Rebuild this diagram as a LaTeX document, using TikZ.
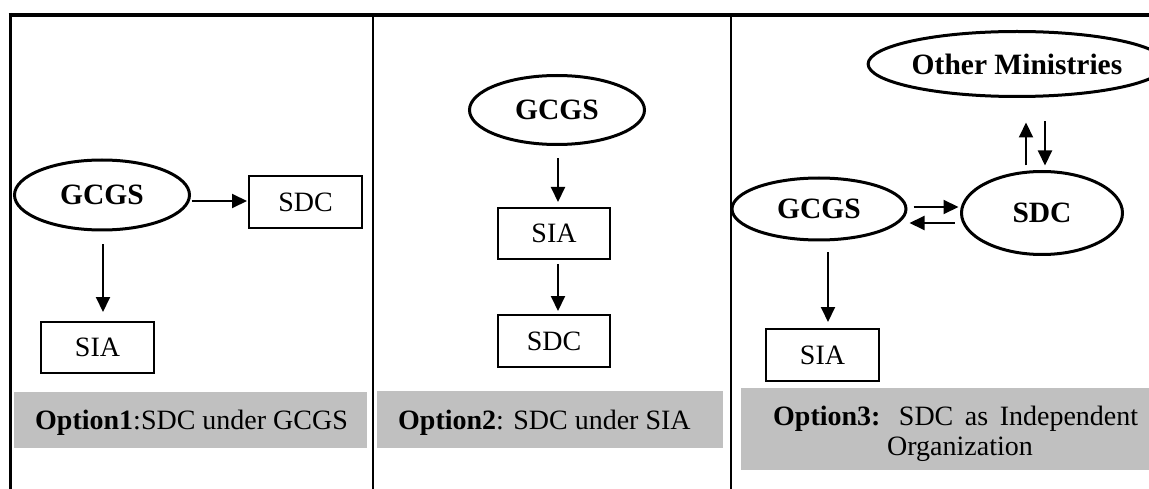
\documentclass[tikz,border=0pt]{standalone}
\usepackage{fontspec}
\setmainfont{Liberation Serif}
\usetikzlibrary{shapes.geometric,arrows.meta,calc}
\definecolor{capgray}{HTML}{C0C0C0}
\begin{document}
\begin{tikzpicture}[x=1pt,y=-1pt,
  oval/.style={draw, ellipse, line width=3pt, inner sep=0pt, font=\fontsize{29.5}{33}\selectfont\bfseries},
  unit/.style={draw, rectangle, line width=2pt, inner sep=0pt, font=\fontsize{28}{32}\selectfont},
  arr/.style={line width=2pt, -{Triangle[length=15pt,width=14pt]}},
  captext/.style={anchor=base west, inner sep=0pt, font=\fontsize{28}{32}\selectfont}]
\useasboundingbox (0,0) rectangle (1149,489);

% table frame
\draw[line width=4pt] (8.5,15) -- (1149,15);
\draw[line width=3pt] (10,13) -- (10,489);
\draw[line width=2pt] (373,15) -- (373,489);
\draw[line width=2pt] (731,15) -- (731,489);

% caption bands
\fill[capgray] (14,392) rectangle (367,448);
\fill[capgray] (377,391) rectangle (723,448);
\fill[capgray] (741,388) rectangle (1149,470);

\node[captext] (c1) at (35,429) {\textbf{Option1}:SDC under GCGS};
\node[captext] (c2) at (398,429) {\textbf{Option2}: SDC under SIA};
\node[captext] (c3a) at (773,425) {\makebox[365pt][s]{\textbf{Option3:} SDC as Independent}};
\node[captext] (c3b) at (887,455) {Organization};

% Option 1
\node[oval, minimum width=175pt, minimum height=70pt] (gcgs1) at (102,195) {GCGS};
\node[unit, minimum width=113pt, minimum height=52pt] (sdc1) at (305.5,202) {SDC};
\node[unit, minimum width=113pt, minimum height=51pt] (sia1) at (97.5,347.5) {SIA};
\draw[arr] ($(gcgs1.east)+(0.5,6)$) -- ($(sdc1.west)+(-1,-1)$);
\draw[arr] ($(gcgs1.south)+(1,13)$) -- ($(sia1.north)+(5.5,-9)$);

% Option 2
\node[oval, minimum width=175pt, minimum height=69pt] (gcgs2) at (557,110) {GCGS};
\node[unit, minimum width=112pt, minimum height=51pt] (sia2) at (554,233.5) {SIA};
\node[unit, minimum width=112pt, minimum height=52pt] (sdc2) at (554,341) {SDC};
\draw[arr] ($(gcgs2.south)+(1,12.5)$) -- ($(sia2.north)+(4,-5)$);
\draw[arr] ($(sia2.south)+(4,4)$) -- ($(sdc2.north)+(4,-3)$);

% Option 3
\node[oval, minimum width=262pt, minimum height=65pt] (om) at (1017,64) {Other Ministries};
\node[oval, minimum width=174pt, minimum height=62pt] (gcgs3) at (819,209) {GCGS};
\node[oval, minimum width=161pt, minimum height=83pt] (sdc3) at (1042,213) {SDC};
\node[unit, minimum width=113pt, minimum height=52pt] (sia3) at (822.5,355) {SIA};
\draw[arr] ($(sdc3.north)+(-16,-4.5)$) -- ($(om.south)+(9,24.5)$);
\draw[arr] ($(om.south)+(28,23.5)$) -- ($(sdc3.north)+(3,-4.5)$);
\draw[arr] ($(gcgs3.east)+(6,-2)$) -- ($(sdc3.west)+(-1.5,-6)$);
\draw[arr] ($(sdc3.west)+(-5.5,10)$) -- ($(gcgs3.east)+(2,14)$);
\draw[arr] ($(gcgs3.south)+(9,11)$) -- ($(sia3.north)+(5.5,-6)$);
\end{tikzpicture}
\end{document}
